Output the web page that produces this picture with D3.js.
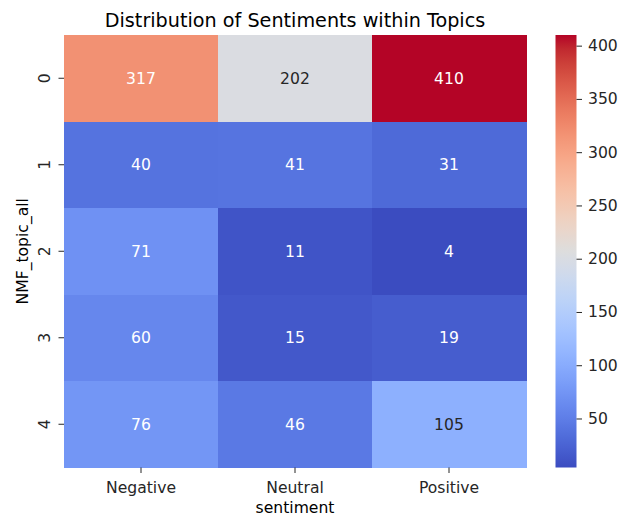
<!DOCTYPE html>
<html>
<head>
<meta charset="utf-8">
<script src="https://cdn.jsdelivr.net/npm/d3@7"></script>
<style>
html,body{margin:0;padding:0;background:#fff;}
svg{display:block;font-family:"DejaVu Sans",sans-serif;}
</style>
</head>
<body>
<svg id="chart" width="631" height="517"></svg>
<script>
const topics = ["0", "1", "2", "3", "4"];
const sentiments = ["Negative", "Neutral", "Positive"];
const negativeVals = [317, 40, 71, 60, 76];
const neutralVals = [202, 41, 11, 15, 46];
const positiveVals = [410, 31, 4, 19, 105];
const colorbarTicks = [50, 100, 150, 200, 250, 300, 350, 400];
const titleText = "Distribution of Sentiments within Topics";
const xLabel = "sentiment";
const yLabel = "NMF_topic_all";

// matplotlib coolwarm (Moreland) control colours
const coolwarm = [
 [59,76,192],[68,90,204],[77,104,215],[87,117,225],[98,130,234],[108,142,241],
 [119,154,247],[130,165,251],[141,176,254],[152,185,255],[163,194,255],[174,201,253],
 [184,208,249],[194,213,244],[204,217,238],[213,219,230],[221,221,221],[229,216,209],
 [236,211,197],[241,204,184],[245,196,172],[247,187,160],[247,177,148],[247,166,135],
 [244,154,123],[241,141,111],[236,127,99],[229,112,88],[222,96,77],[213,80,66],
 [203,62,56],[192,40,47],[180,4,38]
];
const cmapInterp = d3.piecewise(d3.interpolateRgb, coolwarm.map(c => d3.rgb(c[0], c[1], c[2])));

const series = [negativeVals, neutralVals, positiveVals];
const cells = [];
topics.forEach((t, i) => sentiments.forEach((s, j) => cells.push({topic: t, sentiment: s, value: series[j][i]})));

const allVals = cells.map(d => d.value);
const vmin = d3.min(allVals), vmax = d3.max(allVals);
const color = d3.scaleSequential(cmapInterp).domain([vmin, vmax]);

const pLeft = 64, pRight = 526, pTop = 35, pBottom = 467.5;
const x = d3.scaleBand().domain(sentiments).range([pLeft, pRight]).padding(0);
const y = d3.scaleBand().domain(topics).range([pTop, pBottom]).padding(0);

const FS = "15.6px";
const svg = d3.select("#chart");

function lum(c) {
  const r = d3.rgb(c);
  const f = v => { v /= 255; return v <= 0.03928 ? v / 12.92 : Math.pow((v + 0.055) / 1.055, 2.4); };
  return 0.2126 * f(r.r) + 0.7152 * f(r.g) + 0.0722 * f(r.b);
}

svg.append("g").selectAll("rect").data(cells).join("rect")
  .attr("x", d => x(d.sentiment))
  .attr("y", d => y(d.topic))
  .attr("width", x.bandwidth() + 0.5)
  .attr("height", y.bandwidth() + 0.5)
  .attr("fill", d => color(d.value))
  .attr("shape-rendering", "crispEdges");

svg.append("g").selectAll("text").data(cells).join("text")
  .attr("x", d => x(d.sentiment) + x.bandwidth() / 2)
  .attr("y", d => y(d.topic) + y.bandwidth() / 2)
  .attr("dy", "0.36em")
  .attr("text-anchor", "middle")
  .attr("font-size", FS)
  .attr("fill", d => lum(color(d.value)) < 0.408 ? "#ffffff" : "#262626")
  .text(d => d.value);

// x axis
const xAxis = d3.axisBottom(x).tickSize(5.5);
const gx = svg.append("g").attr("transform", `translate(0,${pBottom})`).call(xAxis);
gx.select(".domain").remove();
gx.selectAll(".tick line").attr("stroke", "#262626").attr("stroke-width", 1);
gx.selectAll(".tick text").attr("font-size", FS).attr("fill", "#262626")
  .attr("font-family", "DejaVu Sans, sans-serif").attr("dy", null).attr("y", 25.8);

// y axis
const yAxis = d3.axisLeft(y).tickSize(5.5);
const gy = svg.append("g").attr("transform", `translate(${pLeft},0)`).call(yAxis);
gy.select(".domain").remove();
gy.selectAll(".tick line").attr("stroke", "#262626").attr("stroke-width", 1);
gy.selectAll(".tick text").attr("font-size", FS).attr("fill", "#262626")
  .attr("font-family", "DejaVu Sans, sans-serif")
  .attr("x", null).attr("dy", null)
  .attr("text-anchor", "middle")
  .attr("transform", "translate(-14,0) rotate(-90)");

// labels
svg.append("text").attr("x", (pLeft + pRight) / 2).attr("y", 27)
  .attr("text-anchor", "middle").attr("font-size", "19.2px").attr("fill", "#000")
  .text(titleText);
svg.append("text").attr("x", (pLeft + pRight) / 2).attr("y", 513.3)
  .attr("text-anchor", "middle").attr("font-size", FS).attr("fill", "#000")
  .text(xLabel);
svg.append("text").attr("transform", `translate(28.3,${(pTop + pBottom) / 2}) rotate(-90)`)
  .attr("text-anchor", "middle").attr("font-size", FS).attr("fill", "#000")
  .text(yLabel);

// colorbar
const cbX = 555.5, cbW = 21;
const cbScale = d3.scaleLinear().domain([vmin, vmax]).range([pBottom, pTop]);
const defs = svg.append("defs");
const grad = defs.append("linearGradient").attr("id", "cbgrad")
  .attr("x1", 0).attr("y1", 1).attr("x2", 0).attr("y2", 0);
d3.range(0, 1.0001, 1 / 64).forEach(t => {
  grad.append("stop").attr("offset", t).attr("stop-color", cmapInterp(t));
});
svg.append("rect").attr("x", cbX).attr("y", pTop).attr("width", cbW).attr("height", pBottom - pTop)
  .attr("fill", "url(#cbgrad)");
const cbAxis = d3.axisRight(cbScale).tickValues(colorbarTicks).tickSize(5.5).tickPadding(6);
const gc = svg.append("g").attr("transform", `translate(${cbX + cbW},0)`).call(cbAxis);
gc.select(".domain").remove();
gc.selectAll(".tick line").attr("stroke", "#262626").attr("stroke-width", 1);
gc.selectAll(".tick text").attr("font-size", FS).attr("fill", "#262626")
  .attr("font-family", "DejaVu Sans, sans-serif");
</script>
</body>
</html>
